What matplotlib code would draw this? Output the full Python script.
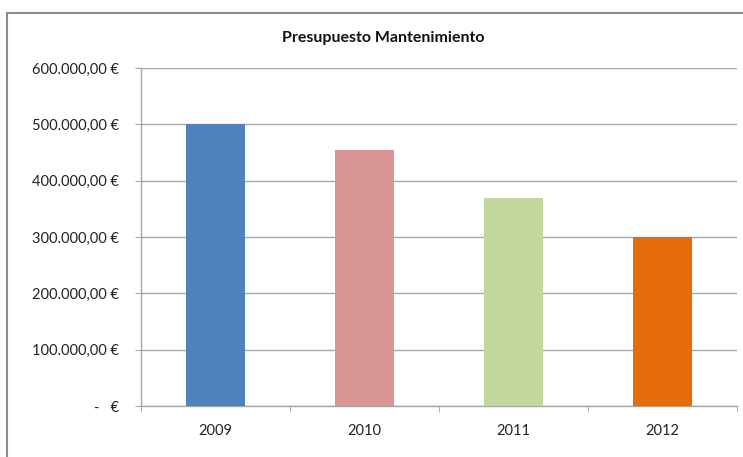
import matplotlib
matplotlib.use("Agg")
import matplotlib.pyplot as plt
from matplotlib.lines import Line2D

categories = ["2009", "2010", "2011", "2012"]
values = [500000, 455000, 370000, 300000]
colors = ["#4F81BD", "#D99594", "#C3D69B", "#E46C0A"]
yticks = [0, 100000, 200000, 300000, 400000, 500000, 600000]
ytick_labels = ["-   €", "100.000,00 €", "200.000,00 €", "300.000,00 €",
                "400.000,00 €", "500.000,00 €", "600.000,00 €"]
title = "Presupuesto Mantenimiento"

plt.rcParams['font.family'] = ['Lato', 'DejaVu Sans']

W, H = 743, 457
fig = plt.figure(figsize=(W / 100, H / 100), dpi=100)
fig.patch.set_facecolor("white")

ax = fig.add_axes([141 / W, 1 - 406 / H, (737 - 141) / W, (406 - 68) / H])
x = range(len(categories))
ax.bar(x, values, width=0.4, color=colors, zorder=3)
ax.set_xlim(-0.5, len(categories) - 0.5)
ax.set_ylim(0, 600000)

grid_c = "#A6A6A6"
ax.set_yticks(yticks)
ax.set_yticklabels(ytick_labels, fontsize=10.5, color="#222222")
ax.yaxis.grid(True, color=grid_c, linewidth=1, zorder=0)
ax.set_xticks(list(x))
ax.set_xticklabels(categories, fontsize=10.5, color="#222222")
ax.set_xticks([i - 0.5 for i in range(len(categories) + 1)], minor=True)
ax.tick_params(axis="x", which="major", length=0, pad=13)
ax.tick_params(axis="x", which="minor", length=4, color=grid_c, direction="out")
ax.tick_params(axis="y", length=4, color=grid_c, direction="out", pad=12)

for s in ["top", "right"]:
    ax.spines[s].set_visible(False)
for s in ["left", "bottom"]:
    ax.spines[s].set_color(grid_c)
    ax.spines[s].set_linewidth(1)

fig.text(383 / W, 1 - 38 / H, title, ha="center", va="center",
         fontsize=11.5, fontweight="bold", color="#111111")

frame_c = "#8C8C8C"
fig.add_artist(Line2D([7 / W, 7 / W], [0, 1 - 13 / H], color=frame_c, lw=1.5,
                      transform=fig.transFigure))
fig.add_artist(Line2D([7 / W, 1], [1 - 13 / H, 1 - 13 / H], color=frame_c, lw=1.5,
                      transform=fig.transFigure))

fig.savefig("out.png", dpi=100)
